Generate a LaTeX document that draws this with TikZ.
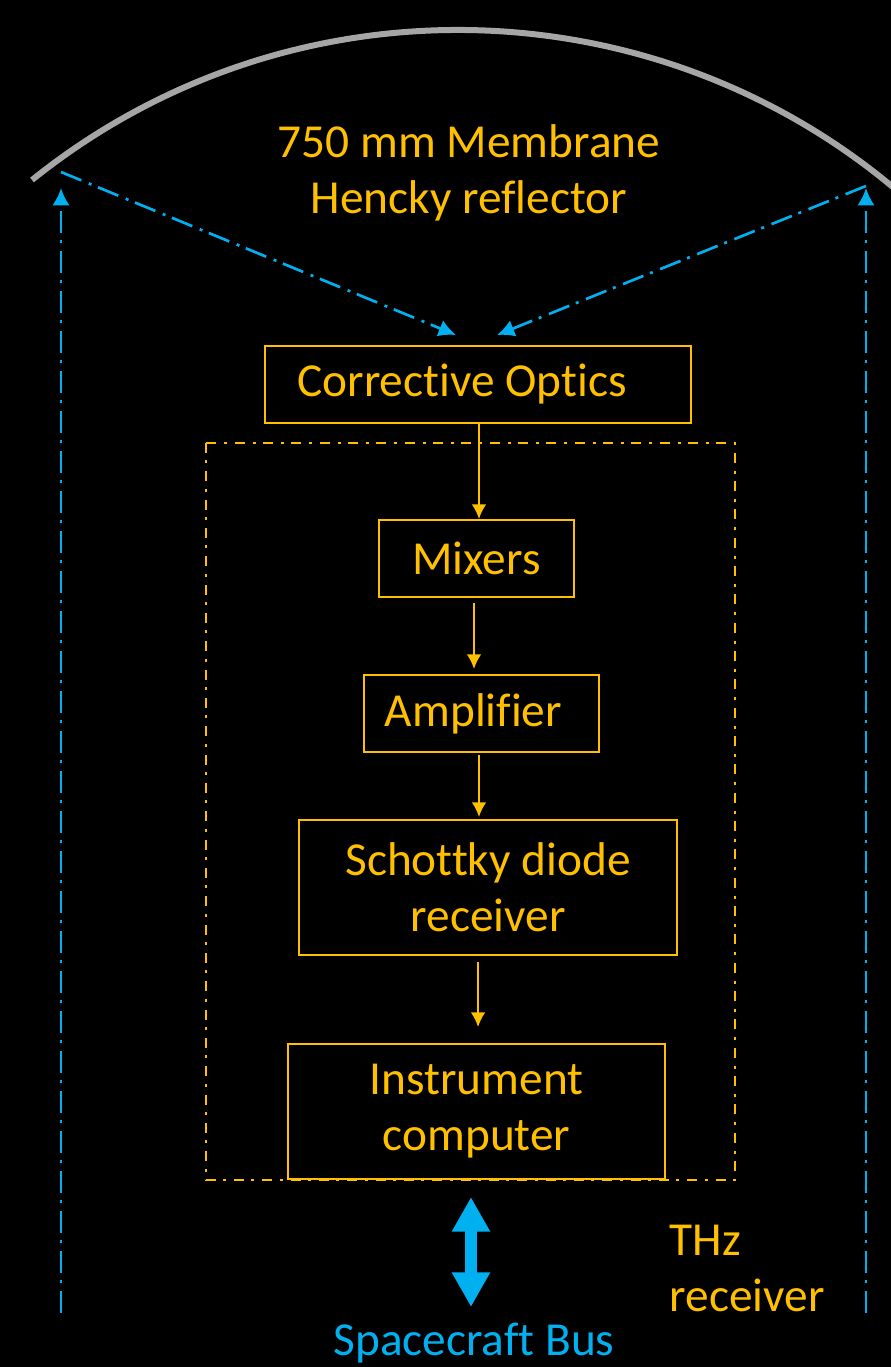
\documentclass[tikz,border=0pt]{standalone}
\usepackage{fontspec}
\setmainfont{Carlito}[Ligatures=CommonOff]
\usepackage{xcolor}
\usetikzlibrary{arrows.meta,positioning}

\definecolor{gold}{HTML}{FFC000}
\definecolor{sky}{HTML}{00B0F0}
\definecolor{dishgray}{HTML}{A6A6A6}

\begin{document}
\begin{tikzpicture}[
x=0.75pt, y=-0.75pt,
font=\fontsize{35.5}{42}\selectfont,
box/.style={
rectangle,
draw=gold,
line width=1.5pt,
text=gold,
minimum height=57.75pt,
inner sep=0pt,
align=center
},
tallbox/.style={box, minimum height=101.25pt},
arrow/.style={-{Latex[length=11pt,width=11pt]},gold,line width=1.5pt},
beam/.style={-{Latex[length=13pt,width=13pt]},sky,line width=2pt,
  dash pattern=on 16.5pt off 6pt on 2.25pt off 5.25pt},
groupline/.style={gold,line width=2pt,
  dash pattern=on 7.5pt off 5.5pt on 2.25pt off 6pt}
]

% frame
\fill[black] (0,0) rectangle (891,1367);
\useasboundingbox (0,0) rectangle (891,1367);

% reflector
\draw[dishgray,line width=4.5pt] (32,180) arc[start angle=-128.8, end angle=-45, radius=680];
\node[text=gold, align=center] (dish) at (469,173) {750 mm Membrane\\Hencky reflector};

% receiver chain
\node[box, minimum width=319.5pt] (optics) at (478,384.5) {Corrective Optics\hspace{24pt}};
\node[box, minimum width=146.25pt, below=71.25pt of optics, xshift=-1.1pt] (mixers) {Mixers};
\node[box, minimum width=176.25pt, below=57pt of mixers, xshift=3.75pt] (amp) {Amplifier\hspace{12pt}};
\node[tallbox, minimum width=283.5pt, below=49.5pt of amp, xshift=4.9pt] (schottky) {Schottky diode\\receiver};
\node[tallbox, minimum width=282.75pt, below=65.25pt of schottky, xshift=-8.6pt] (instr) {Instrument\\computer};

\draw[groupline] (206,443) rectangle (735,1180);

\draw[arrow] ([xshift=0.75pt]optics.south) -- ([xshift=0.75pt]optics.south |- mixers.north);
\draw[arrow,shorten <=3.75pt,shorten >=3.75pt] ([xshift=-1.9pt]mixers.south) -- ([xshift=-1.9pt]mixers.south |- amp.north);
\draw[arrow,shorten <=1.5pt,shorten >=1.5pt] ([xshift=-1.9pt]amp.south) -- ([xshift=-1.9pt]amp.south |- schottky.north);
\draw[arrow,shorten <=4.5pt,shorten >=12pt] ([xshift=-7.5pt]schottky.south) -- ([xshift=-7.5pt]schottky.south |- instr.north);

% optical paths
\coordinate (leftfoot) at (61,1313);
\coordinate (lefttop) at (61,188);
\coordinate (rightfoot) at (866,1313);
\coordinate (righttop) at (866,188);
\coordinate (leftrim) at (61,172);
\coordinate (rightrim) at (866,186);
\coordinate (lefthit) at (456,335);
\coordinate (righthit) at (497,335);

\draw[beam] (leftfoot) -- (lefttop);
\draw[beam] (rightfoot) -- (righttop);
\draw[beam] (leftrim) -- (lefthit);
\draw[beam] (rightrim) -- (righthit);

% spacecraft interface
\node[text=sky, anchor=base] (bus) at (474,1355) {Spacecraft Bus};
\node[text=gold, align=left, anchor=north west] (thz) at (665,1220) {THz\\receiver};
\coordinate (busin) at (471,1197);
\coordinate (busout) at (471,1307);
\draw[{Triangle[length=26pt,width=27pt]}-{Triangle[length=26pt,width=27pt]},sky,line width=9pt] (busin) -- (busout);

\end{tikzpicture}
\end{document}
